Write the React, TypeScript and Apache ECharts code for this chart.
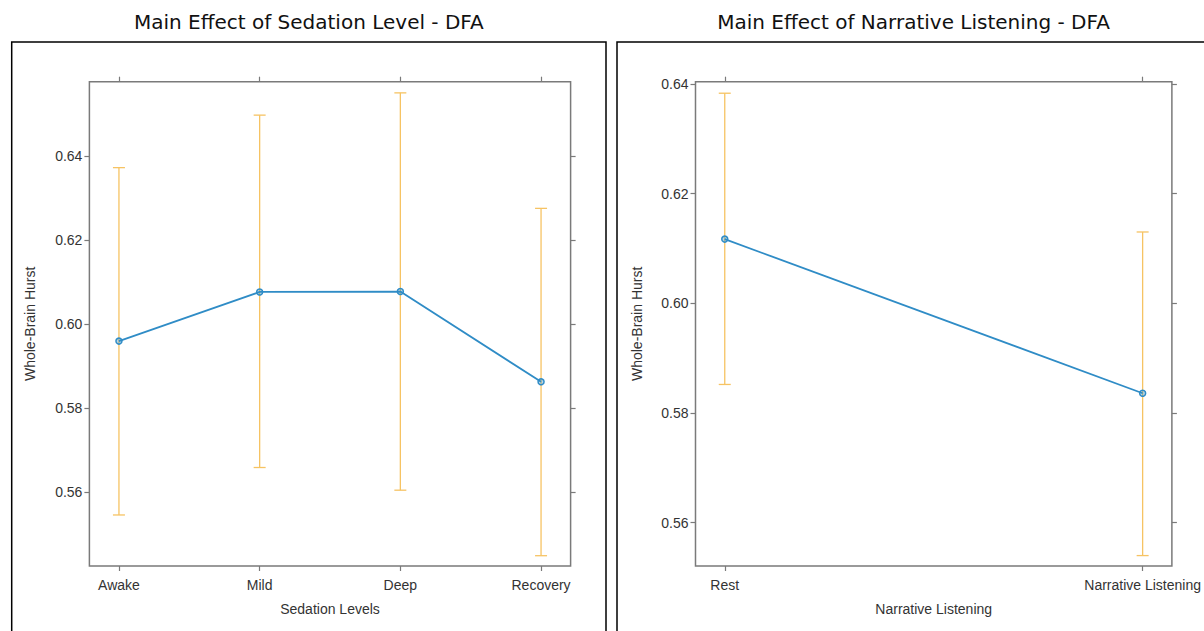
import React, { useEffect, useRef } from "react";
import * as echarts from "echarts";

// Sedation panel
const sedationLevels = ["Awake", "Mild", "Deep", "Recovery"];
const sedationMean = [0.596, 0.6077, 0.6078, 0.5863];
const sedationLower = [0.5546, 0.5659, 0.5605, 0.5449];
const sedationUpper = [0.6373, 0.6498, 0.6551, 0.6276];

// Narrative panel
const narrativeLevels = ["Rest", "Narrative Listening"];
const narrativeMean = [0.6117, 0.5836];
const narrativeLower = [0.5852, 0.554];
const narrativeUpper = [0.6383, 0.613];

const sedationTicks = [0.56, 0.58, 0.6, 0.62, 0.64];
const narrativeTicks = [0.56, 0.58, 0.6, 0.62, 0.64];

const titles = ["Main Effect of Sedation Level - DFA", "Main Effect of Narrative Listening - DFA"];
const xTitles = ["Sedation Levels", "Narrative Listening"];
const yTitle = "Whole-Brain Hurst";

const AXIS_GRAY = "#7a7a7a";
const TEXT = "#333333";
const LINE_BLUE = "#2f8cc6";
const BAR_ORANGE = "#f6c363";
const FONT = "Liberation Sans, Arial, sans-serif";

function errorBarRender() {
  return (params: any, api: any) => {
    const i = api.value(0);
    const lo = api.coord([i, api.value(1)]);
    const hi = api.coord([i, api.value(2)]);
    const half = 6;
    const style = { stroke: BAR_ORANGE, lineWidth: 1.3 };
    return {
      type: "group",
      children: [
        { type: "line", shape: { x1: lo[0], y1: lo[1], x2: hi[0], y2: hi[1] }, style },
        { type: "line", shape: { x1: lo[0] - half, y1: lo[1], x2: lo[0] + half, y2: lo[1] }, style },
        { type: "line", shape: { x1: hi[0] - half, y1: hi[1], x2: hi[0] + half, y2: hi[1] }, style },
      ],
    };
  };
}

export default function App() {
  const ref = useRef<HTMLDivElement>(null);

  useEffect(() => {
    if (!ref.current) return;
    const chart = echarts.init(ref.current, null, { renderer: "svg" });

    const gridTop = 81.7;
    const gridH = 484.3;
    const gridW = 481.2;
    const grids = [
      { left: 89.4, top: gridTop, width: gridW, height: gridH },
      { left: 695.5, top: gridTop, width: gridW, height: gridH },
    ].map((g) => ({ ...g, show: true, borderColor: AXIS_GRAY, borderWidth: 1.5, backgroundColor: "transparent" }));

    const cats = [sedationLevels, narrativeLevels];
    const pad = [0.21, 0.07];
    const yRange = [
      [0.54245, 0.65776],
      [0.5521, 0.6404],
    ];
    const yTicks = [sedationTicks, narrativeTicks];
    const tick = (vals: number[]) => ({
      show: true,
      length: 5,
      lineStyle: { color: AXIS_GRAY, width: 1.2 },
      customValues: vals,
    });

    const xAxis: any[] = [];
    const yAxis: any[] = [];
    [0, 1].forEach((k) => {
      const idx = cats[k].map((_, i) => i);
      const base = {
        type: "value",
        gridIndex: k,
        min: -pad[k],
        max: cats[k].length - 1 + pad[k],
        splitLine: { show: false },
        axisLine: { show: false, onZero: false },
      };
      xAxis.push({
        ...base,
        position: "bottom",
        name: xTitles[k],
        nameLocation: "middle",
        nameGap: 36,
        nameTextStyle: { color: TEXT, fontSize: 14, fontFamily: FONT },
        axisTick: tick(idx),
        axisLabel: {
          show: true,
          customValues: idx,
          formatter: (v: number) => cats[k][Math.round(v)] ?? "",
          color: TEXT,
          fontSize: 14,
          fontFamily: FONT,
          margin: 12,
        },
      });
      xAxis.push({
        ...base,
        position: "top",
        axisTick: tick(idx),
        axisLabel: { show: false },
      });
      const ybase = {
        type: "value",
        gridIndex: k,
        min: yRange[k][0],
        max: yRange[k][1],
        splitLine: { show: false },
        axisLine: { show: false, onZero: false },
      };
      yAxis.push({
        ...ybase,
        position: "left",
        name: yTitle,
        nameLocation: "middle",
        nameGap: 52,
        nameTextStyle: { color: TEXT, fontSize: 14, fontFamily: FONT },
        axisTick: tick(yTicks[k]),
        axisLabel: {
          show: true,
          customValues: yTicks[k],
          formatter: (v: number) => v.toFixed(2),
          color: TEXT,
          fontSize: 14,
          fontFamily: FONT,
          margin: 7,
        },
      });
      yAxis.push({
        ...ybase,
        position: "right",
        axisTick: tick(yTicks[k]),
        axisLabel: { show: false },
      });
    });

    const panels = [
      { mean: sedationMean, lower: sedationLower, upper: sedationUpper },
      { mean: narrativeMean, lower: narrativeLower, upper: narrativeUpper },
    ];
    const series: any[] = [];
    panels.forEach((p, k) => {
      series.push({
        type: "custom",
        xAxisIndex: k * 2,
        yAxisIndex: k * 2,
        renderItem: errorBarRender(),
        data: p.mean.map((_, i) => [i, p.lower[i], p.upper[i]]),
        encode: { x: 0, y: [1, 2] },
        z: 2,
      });
      series.push({
        type: "line",
        xAxisIndex: k * 2,
        yAxisIndex: k * 2,
        data: p.mean.map((m, i) => [i, m]),
        symbol: "circle",
        symbolSize: 6,
        lineStyle: { color: LINE_BLUE, width: 1.8 },
        itemStyle: { color: "rgba(47,140,198,0.35)", borderColor: LINE_BLUE, borderWidth: 1.5 },
        z: 3,
      });
    });

    const titleStyle = (text: string) => ({
      text,
      fill: "#111",
      font: "20px 'DejaVu Sans', sans-serif",
      align: "center",
      verticalAlign: "middle",
    });

    chart.setOption({
      animation: false,
      backgroundColor: "#ffffff",
      grid: grids,
      xAxis,
      yAxis,
      series,
      graphic: [
        {
          type: "rect",
          shape: { x: 11.7, y: 42, width: 594.3, height: 620 },
          style: { fill: "none", stroke: "#000", lineWidth: 1.5 },
          silent: true,
        },
        {
          type: "rect",
          shape: { x: 617, y: 42, width: 594, height: 620 },
          style: { fill: "none", stroke: "#000", lineWidth: 1.5 },
          silent: true,
        },
        { type: "text", x: 308.8, y: 22, style: titleStyle(titles[0]) },
        { type: "text", x: 913.5, y: 22, style: titleStyle(titles[1]) },
      ],
    });

    return () => chart.dispose();
  }, []);

  return (
    <div
      ref={ref}
      style={{ position: "fixed", left: 0, top: 0, width: 1204, height: 631, background: "#fff" }}
    />
  );
}
